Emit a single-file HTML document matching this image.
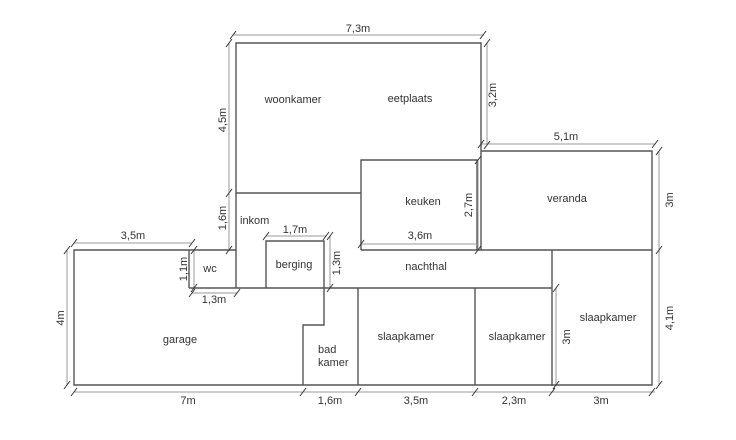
<!DOCTYPE html>
<html><head><meta charset="utf-8"><style>
html,body{margin:0;padding:0;background:#fff;}
svg{display:block;}
text{font-family:"Liberation Sans",sans-serif;font-size:11px;fill:#333;}
</style></head><body>
<svg width="736" height="440" viewBox="0 0 736 440" xmlns="http://www.w3.org/2000/svg">
<g stroke="#555" stroke-width="1.4" fill="none">
<polyline points="236,288 236,43 481,43 481,250"/>
<line x1="236" y1="193" x2="361" y2="193"/>
<polyline points="361,250 361,160 477,160 477,250"/>
<polyline points="481,151 652,151 652,385 74,385 74,250 236,250"/>
<line x1="361" y1="250" x2="652" y2="250"/>
<line x1="552" y1="250" x2="552" y2="386"/>
<line x1="189" y1="250" x2="189" y2="288"/>
<line x1="189" y1="288" x2="552" y2="288"/>
<polyline points="266,288 266,241 324,241 324,325 303,325 303,385"/>
<line x1="358" y1="288" x2="358" y2="385"/>
<line x1="475" y1="288" x2="475" y2="385"/>
</g>
<g stroke="#999" stroke-width="1" fill="none">
<line x1="233" y1="35" x2="484" y2="35"/>
<line x1="229" y1="43" x2="229" y2="193"/>
<line x1="229" y1="193" x2="229" y2="250"/>
<line x1="487" y1="43" x2="487" y2="145"/>
<line x1="478" y1="160" x2="478" y2="250"/>
<line x1="361" y1="244" x2="478" y2="244"/>
<line x1="481" y1="144" x2="655" y2="144"/>
<line x1="659" y1="151" x2="659" y2="250"/>
<line x1="659" y1="250" x2="659" y2="385"/>
<line x1="556" y1="288" x2="556" y2="385"/>
<line x1="74" y1="392" x2="655" y2="392"/>
<line x1="67" y1="250" x2="67" y2="385"/>
<line x1="74" y1="243" x2="192" y2="243"/>
<line x1="194" y1="250" x2="194" y2="288"/>
<line x1="192" y1="293" x2="237" y2="293"/>
<line x1="266" y1="236" x2="326" y2="236"/>
<line x1="330" y1="236" x2="330" y2="288"/>
</g>
<g stroke="#333" stroke-width="1">
<path d="M230,39 l6,-8 M480,39 l6,-8 M226,47 l6,-8 M226,197 l6,-8 M226,254 l6,-8 M484,47 l6,-8 M484,149 l6,-8 M475,164 l6,-8 M475,254 l6,-8 M358,248 l6,-8 M478,148 l6,-8 M652,148 l6,-8 M656,155 l6,-8 M656,254 l6,-8 M656,389 l6,-8 M553,292 l6,-8 M553,389 l6,-8 M71,396 l6,-8 M300,396 l6,-8 M355,396 l6,-8 M472,396 l6,-8 M549,396 l6,-8 M649,396 l6,-8 M64,254 l6,-8 M64,389 l6,-8 M71,247 l6,-8 M189,247 l6,-8 M191,254 l6,-8 M191,292 l6,-8 M189,297 l6,-8 M234,297 l6,-8 M263,240 l6,-8 M323,240 l6,-8 M327,240 l6,-8 M327,292 l6,-8"/>
</g>
<text x="358" y="32" text-anchor="middle">7,3m</text>
<text x="566" y="140" text-anchor="middle">5,1m</text>
<text x="420" y="239" text-anchor="middle">3,6m</text>
<text x="133" y="239" text-anchor="middle">3,5m</text>
<text x="295" y="233" text-anchor="middle">1,7m</text>
<text x="214" y="303" text-anchor="middle">1,3m</text>
<text x="188" y="404" text-anchor="middle">7m</text>
<text x="330" y="404" text-anchor="middle">1,6m</text>
<text x="416" y="404" text-anchor="middle">3,5m</text>
<text x="514" y="404" text-anchor="middle">2,3m</text>
<text x="601" y="404" text-anchor="middle">3m</text>
<text transform="translate(226,120) rotate(-90)" text-anchor="middle">4,5m</text>
<text transform="translate(226,218) rotate(-90)" text-anchor="middle">1,6m</text>
<text transform="translate(496,95) rotate(-90)" text-anchor="middle">3,2m</text>
<text transform="translate(472,205) rotate(-90)" text-anchor="middle">2,7m</text>
<text transform="translate(673,200) rotate(-90)" text-anchor="middle">3m</text>
<text transform="translate(673,318) rotate(-90)" text-anchor="middle">4,1m</text>
<text transform="translate(570,337) rotate(-90)" text-anchor="middle">3m</text>
<text transform="translate(64,318) rotate(-90)" text-anchor="middle">4m</text>
<text transform="translate(187,269) rotate(-90)" text-anchor="middle">1,1m</text>
<text transform="translate(340,263) rotate(-90)" text-anchor="middle">1,3m</text>
<text x="293" y="103" text-anchor="middle">woonkamer</text>
<text x="410" y="102" text-anchor="middle">eetplaats</text>
<text x="240" y="224">inkom</text>
<text x="423" y="205" text-anchor="middle">keuken</text>
<text x="567" y="202" text-anchor="middle">veranda</text>
<text x="210" y="272" text-anchor="middle">wc</text>
<text x="294" y="268" text-anchor="middle">berging</text>
<text x="426" y="270" text-anchor="middle">nachthal</text>
<text x="180" y="343" text-anchor="middle">garage</text>
<text x="318" y="353">bad</text>
<text x="318" y="366">kamer</text>
<text x="406" y="340" text-anchor="middle">slaapkamer</text>
<text x="517" y="340" text-anchor="middle">slaapkamer</text>
<text x="608" y="321" text-anchor="middle">slaapkamer</text>
</svg>
</body></html>
